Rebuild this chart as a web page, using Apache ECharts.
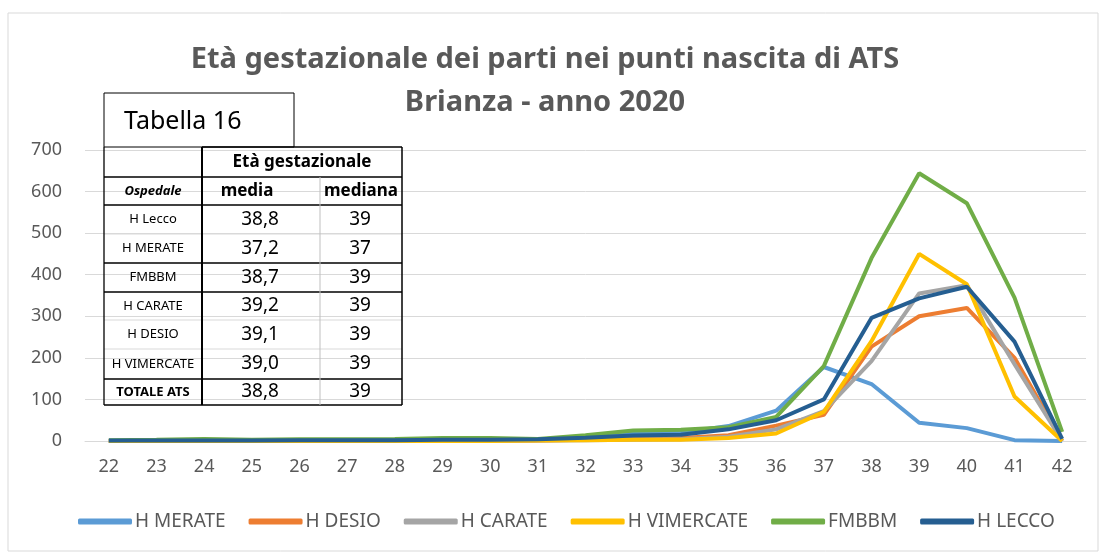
<!DOCTYPE html>
<html>
<head>
<meta charset="utf-8">
<script src="https://cdn.jsdelivr.net/npm/echarts@6/dist/echarts.min.js"></script>
<style>
  html, body { margin: 0; padding: 0; background: #fff; }
  #chart { width: 1100px; height: 552px; }
</style>
</head>
<body>
<div id="chart"></div>
<script>
// settimane di gestazione
var weeks = ["22","23","24","25","26","27","28","29","30","31","32","33","34","35","36","37","38","39","40","41","42"];

var merate    = [0, 0, 0, 0, 1, 1, 1, 2, 2, 3, 10, 18, 20, 36, 73, 178, 137, 44, 31, 2, 0];
var desio     = [0, 0, 0, 0, 0, 0, 0, 0, 0, 1, 3, 5, 7, 14, 37, 63, 227, 300, 320, 200, 0];
var carate    = [0, 0, 0, 0, 0, 0, 0, 0, 0, 1, 2, 3, 4, 10, 28, 72, 192, 355, 375, 185, 0];
var vimercate = [0, 0, 0, 0, 0, 0, 0, 0, 0, 1, 2, 3, 3, 7, 18, 70, 240, 450, 377, 107, 0];
var fmbbm     = [2, 3, 5, 3, 4, 4, 5, 7, 7, 5, 14, 25, 27, 33, 58, 180, 440, 644, 572, 345, 22];
var lecco     = [1, 1, 1, 1, 2, 2, 2, 3, 3, 4, 8, 13, 15, 28, 50, 100, 296, 343, 371, 239, 5];

var seriesNames = ["H MERATE", "H DESIO", "H CARATE", "H VIMERCATE", "FMBBM", "H LECCO"];
var seriesData = [merate, desio, carate, vimercate, fmbbm, lecco];
var colors = ["#5B9BD5", "#ED7D31", "#A5A5A5", "#FFC000", "#70AD47", "#255E91"];

// Tabella 16
var ospedali = ["H Lecco", "H MERATE", "FMBBM", "H CARATE", "H DESIO", "H VIMERCATE", "TOTALE ATS"];
var media    = ["38,8", "37,2", "38,7", "39,2", "39,1", "39,0", "38,8"];
var mediana  = ["39", "37", "39", "39", "39", "39", "39"];

var font = "'Noto Sans', sans-serif";
var grey = "#595959";

var myChart = echarts.init(document.getElementById("chart"));

// tabella disegnata con graphic
var tx = 104, tCol1 = 202, tCol2 = 320, tRight = 402;
var rowLines = [147, 177, 205, 234, 263, 292, 320, 349, 379, 405];
var thick = [147, 177, 205, 263, 292, 379, 405];
var g = [];

g.push({ type: "rect", shape: { x: 8, y: 13, width: 1090, height: 538 },
  style: { fill: null, stroke: "#d9d9d9", lineWidth: 1 }, silent: true });

g.push({ type: "rect", shape: { x: 104, y: 93, width: 190, height: 54 },
  style: { fill: "#fff", stroke: "#000", lineWidth: 1 }, z: 10 });
g.push({ type: "text", x: 124, y: 122, style: { text: "Tabella 16", font: "25px " + font, fill: "#000", verticalAlign: "middle" }, z: 11 });

rowLines.forEach(function (y, i) {
  var isThick = thick.indexOf(y) >= 0;
  var x1 = (i === 0) ? tCol1 : tx;
  g.push({ type: "line", shape: { x1: x1, y1: y, x2: tRight, y2: y },
    style: { stroke: isThick ? "#000" : "#d9d9d9", lineWidth: isThick ? 1.3 : 1 }, z: 10 });
});
g.push({ type: "line", shape: { x1: tx, y1: 147, x2: tx, y2: 405 }, style: { stroke: "#000", lineWidth: 1.3 }, z: 10 });
g.push({ type: "line", shape: { x1: tCol1, y1: 147, x2: tCol1, y2: 405 }, style: { stroke: "#000", lineWidth: 2 }, z: 10 });
g.push({ type: "line", shape: { x1: tCol2, y1: 177, x2: tCol2, y2: 405 }, style: { stroke: "#bfbfbf", lineWidth: 1 }, z: 10 });
g.push({ type: "line", shape: { x1: tRight, y1: 147, x2: tRight, y2: 405 }, style: { stroke: "#000", lineWidth: 1.5 }, z: 10 });

g.push({ type: "text", x: 302, y: 162, style: { text: "Età gestazionale", font: "bold 17px " + font, fill: "#000", align: "center", verticalAlign: "middle" }, z: 11 });
g.push({ type: "text", x: 153, y: 191, style: { text: "Ospedale", font: "italic bold 13px " + font, fill: "#000", align: "center", verticalAlign: "middle" }, z: 11 });
g.push({ type: "text", x: 247, y: 191, style: { text: "media", font: "bold 17px " + font, fill: "#000", align: "center", verticalAlign: "middle" }, z: 11 });
g.push({ type: "text", x: 361, y: 191, style: { text: "mediana", font: "bold 17px " + font, fill: "#000", align: "center", verticalAlign: "middle" }, z: 11 });

ospedali.forEach(function (name, i) {
  var yc = (rowLines[i + 2] + rowLines[i + 3]) / 2;
  var bold = name === "TOTALE ATS";
  g.push({ type: "text", x: 153, y: yc, style: { text: name, font: (bold ? "bold " : "") + "13px " + font, fill: "#000", align: "center", verticalAlign: "middle" }, z: 11 });
  g.push({ type: "text", x: 260, y: yc, style: { text: media[i], font: "19px " + font, fill: "#000", align: "center", verticalAlign: "middle" }, z: 11 });
  g.push({ type: "text", x: 360, y: yc, style: { text: mediana[i], font: "19px " + font, fill: "#000", align: "center", verticalAlign: "middle" }, z: 11 });
});

var option = {
  backgroundColor: "#fff",
  color: colors,
  title: {
    text: "Età gestazionale dei parti nei punti nascita di ATS\nBrianza - anno 2020",
    left: 540,
    textAlign: "center",
    top: 33,
    textStyle: { color: grey, fontFamily: font, fontWeight: "bold", fontSize: 29, lineHeight: 43 }
  },
  legend: {
    bottom: 16,
    left: 73,
    itemWidth: 54,
    itemHeight: 6,
    itemGap: 23,
    icon: "roundRect",
    textStyle: { color: grey, fontFamily: font, fontSize: 19, padding: [0, 0, 0, -2] },
    data: seriesNames
  },
  grid: { left: 85, right: 14, top: 150, bottom: 111, containLabel: false },
  xAxis: {
    type: "category",
    data: weeks,
    boundaryGap: true,
    axisLine: { show: true, lineStyle: { color: "#d9d9d9" } },
    axisTick: { show: false },
    axisLabel: { color: grey, fontFamily: font, fontSize: 18, margin: 17 }
  },
  yAxis: {
    type: "value",
    min: 0,
    max: 700,
    interval: 100,
    axisLine: { show: false },
    axisTick: { show: false },
    axisLabel: { color: grey, fontFamily: font, fontSize: 18, margin: 23 },
    splitLine: { lineStyle: { color: "#d9d9d9" } }
  },
  series: seriesNames.map(function (n, i) {
    return {
      name: n,
      type: "line",
      data: seriesData[i],
      symbol: "none",
      lineStyle: { width: 4 }
    };
  }),
  graphic: g
};

myChart.setOption(option);
</script>
</body>
</html>
